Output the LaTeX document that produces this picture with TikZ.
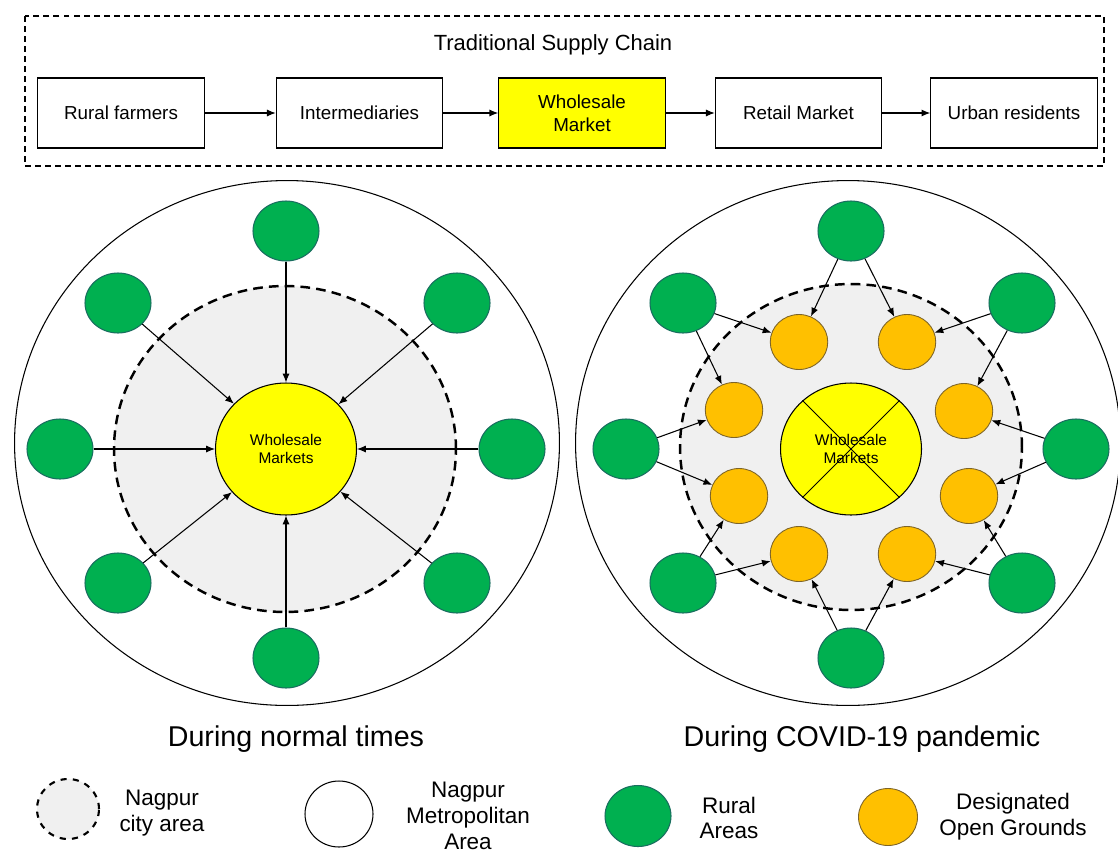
\documentclass[tikz,border=0pt]{standalone}
\usepackage{fontspec}
\setmainfont{Liberation Sans}
\usetikzlibrary{positioning, arrows.meta, shapes.geometric}

\definecolor{ruralgreen}{RGB}{0,176,80}
\definecolor{ruraledge}{RGB}{25,110,95}
\definecolor{groundorange}{RGB}{255,192,0}
\definecolor{groundedge}{RGB}{125,100,40}
\definecolor{marketyellow}{RGB}{255,255,0}
\definecolor{citygrey}{RGB}{240,240,240}

\begin{document}
\begin{tikzpicture}[x=0.02cm, y=-0.02cm,
  chainbox/.style={draw, line width=0.6pt, minimum width=3.33cm, minimum height=1.4cm, align=center, font=\fontsize{10.7}{13}\selectfont},
  metro/.style={draw, ellipse, line width=0.6pt, fill=white, minimum width=10.9cm, minimum height=10.5cm, inner sep=0pt},
  city/.style={draw, ellipse, line width=1.4pt, dash pattern=on 5.5pt off 3.5pt, fill=citygrey, minimum width=6.84cm, minimum height=6.52cm, inner sep=0pt},
  market/.style={draw, ellipse, line width=0.6pt, fill=marketyellow, minimum width=2.82cm, minimum height=2.64cm, inner sep=0pt, align=center, font=\fontsize{8.8}{10.2}\selectfont},
  rural/.style={draw=ruraledge, ellipse, line width=0.6pt, fill=ruralgreen, minimum width=1.32cm, minimum height=1.2cm, inner sep=0pt},
  ground/.style={draw=groundedge, ellipse, line width=0.5pt, fill=groundorange, minimum width=1.15cm, minimum height=1.1cm, inner sep=0pt},
  arrow/.style={-{Latex[length=5pt,width=4pt]}, line width=0.6pt},
  caption/.style={font=\fontsize{16.3}{19}\selectfont},
  legendtext/.style={align=center, font=\fontsize{12.8}{14.7}\selectfont}
]
  \useasboundingbox (0,0) rectangle (1118,852);

  % traditional supply chain
  \draw[line width=0.6pt, dash pattern=on 3.4pt off 2.3pt] (25,16) rectangle (1104,166);
  \node[font=\fontsize{12.5}{15}\selectfont] (title) at (553,45) {Traditional Supply Chain};
  \node[chainbox] (farmers) at (121,113) {Rural farmers};
  \node[chainbox, right=1.42cm of farmers] (inter) {Intermediaries};
  \node[chainbox, fill=marketyellow, right=1.1cm of inter] (whole) {Wholesale\\Market};
  \node[chainbox, right=0.98cm of whole] (retail) {Retail Market};
  \node[chainbox, right=0.96cm of retail] (urban) {Urban residents};
  \draw[arrow] (farmers) -- (inter);
  \draw[arrow] (inter) -- (whole);
  \draw[arrow] (whole) -- (retail);
  \draw[arrow] (retail) -- (urban);

  % during normal times
  \node[metro] (metroA) at (287,443) {};
  \node[city] (cityA) at (285,449) {};
  \node[market] (wmA) at (286,449) {Wholesale\\Markets};
  \node[rural] (rA1) at (286,231) {};
  \node[rural] (rA2) at (457,303) {};
  \node[rural] (rA3) at (512,449) {};
  \node[rural] (rA4) at (457,583) {};
  \node[rural] (rA5) at (286,658) {};
  \node[rural] (rA6) at (118,583) {};
  \node[rural] (rA7) at (60,449) {};
  \node[rural] (rA8) at (118,303) {};
  \draw[arrow] (rA1) -- (wmA);
  \draw[arrow] (rA2) -- (wmA);
  \draw[arrow] (rA3) -- (wmA);
  \draw[arrow] (rA4) -- (wmA);
  \draw[arrow] (rA5) -- (wmA);
  \draw[arrow] (rA6) -- (wmA);
  \draw[arrow] (rA7) -- (wmA);
  \draw[arrow] (rA8) -- (wmA);
  \node[caption] (capA) at (296,739) {During normal times};

  % during covid-19 pandemic
  \node[metro] (metroB) at (848,443) {};
  \node[city] (cityB) at (851,447) {};
  \node[market] (wmB) at (851,449) {Wholesale\\Markets};
  \draw[line width=0.5pt] (wmB.45) -- (wmB.225);
  \draw[line width=0.5pt] (wmB.135) -- (wmB.-45);
  \node[ground] (gB1) at (799,342) {};
  \node[ground] (gB2) at (907,342) {};
  \node[ground] (gB3) at (964,411) {};
  \node[ground] (gB4) at (969,496) {};
  \node[ground] (gB5) at (907,554) {};
  \node[ground] (gB6) at (799,554) {};
  \node[ground] (gB7) at (739,496) {};
  \node[ground] (gB8) at (734,410) {};
  \node[rural] (rB1) at (851,231) {};
  \node[rural] (rB2) at (1022,303) {};
  \node[rural] (rB3) at (1076,449) {};
  \node[rural] (rB4) at (1022,583) {};
  \node[rural] (rB5) at (851,658) {};
  \node[rural] (rB6) at (683,583) {};
  \node[rural] (rB7) at (626,449) {};
  \node[rural] (rB8) at (683,303) {};
  \draw[arrow] (rB1) -- (gB1);
  \draw[arrow] (rB1) -- (gB2);
  \draw[arrow] (rB2) -- (gB2);
  \draw[arrow] (rB2) -- (gB3);
  \draw[arrow] (rB3) -- (gB3);
  \draw[arrow] (rB3) -- (gB4);
  \draw[arrow] (rB4) -- (gB4);
  \draw[arrow] (rB4) -- (gB5);
  \draw[arrow] (rB5) -- (gB5);
  \draw[arrow] (rB5) -- (gB6);
  \draw[arrow] (rB6) -- (gB6);
  \draw[arrow] (rB6) -- (gB7);
  \draw[arrow] (rB7) -- (gB7);
  \draw[arrow] (rB7) -- (gB8);
  \draw[arrow] (rB8) -- (gB8);
  \draw[arrow] (rB8) -- (gB1);
  \node[caption] (capB) at (862,739) {During COVID-19 pandemic};

  % legend
  \node[draw, ellipse, line width=1.2pt, dash pattern=on 3.5pt off 3.5pt, fill=citygrey, minimum width=1.24cm, minimum height=1.2cm, inner sep=0pt] (keyCity) at (68,809) {};
  \node[legendtext] (keyCityText) at (162,813) {Nagpur\\city area};
  \node[draw, ellipse, line width=0.6pt, minimum width=1.36cm, minimum height=1.32cm, inner sep=0pt] (keyMetro) at (339,814) {};
  \node[legendtext] (keyMetroText) at (468,816) {Nagpur\\Metropolitan\\Area};
  \node[rural, minimum height=1.22cm] (keyRural) at (638,816) {};
  \node[legendtext] (keyRuralText) at (729,818) {Rural\\Areas};
  \node[ground, minimum width=1.18cm, minimum height=1.14cm] (keyGround) at (888,817) {};
  \node[legendtext] (keyGroundText) at (1013,817) {Designated\\Open Grounds};
\end{tikzpicture}
\end{document}
